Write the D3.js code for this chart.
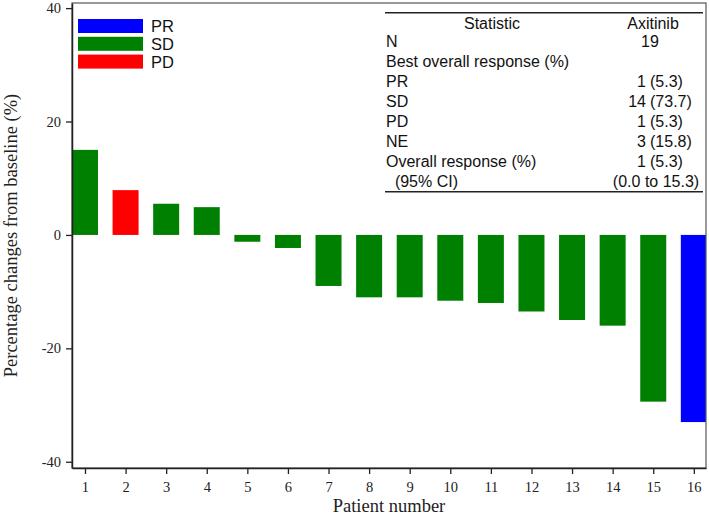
<!DOCTYPE html>
<html>
<head>
<meta charset="utf-8">
<script src="https://cdn.jsdelivr.net/npm/d3@7"></script>
<style>
  body { margin: 0; background: #fff; }
  svg { display: block; }
</style>
</head>
<body>
<svg id="chart" width="709" height="516"></svg>
<script>
// ---- data ----
const patients = [1, 2, 3, 4, 5, 6, 7, 8, 9, 10, 11, 12, 13, 14, 15, 16];
const changes = [15.0, 7.9, 5.5, 4.9, -1.2, -2.3, -9.0, -11.0, -11.0, -11.6, -12.0, -13.5, -15.0, -16.0, -29.4, -33.0];
const responses = ["SD", "PD", "SD", "SD", "SD", "SD", "SD", "SD", "SD", "SD", "SD", "SD", "SD", "SD", "SD", "PR"];
const yTicks = [-40, -20, 0, 20, 40];
const legendLabels = ["PR", "SD", "PD"];
const legendColors = ["#0000ff", "#008000", "#ff0000"];
const tableHeader = ["Statistic", "Axitinib"];
const tableLabels = ["N", "Best overall response (%)", "PR", "SD", "PD", "NE", "Overall response (%)", "\u00a0\u00a0(95% CI)"];
const tableValues = ["19", "", "1 (5.3)", "14 (73.7)", "1 (5.3)", "3 (15.8)", "1 (5.3)", "(0.0 to 15.3)"];

(function () {
const svg = d3.select("#chart");
const pLeft = 72, pRight = 706, pTop = 3, pBottom = 468;

const x = d3.scaleLinear().domain([0.68, 16.3]).range([pLeft, pRight]);
const y = d3.scaleLinear().domain([-41.1, 40.9]).range([pBottom, pTop]);
const color = d3.scaleOrdinal().domain(legendLabels).range(legendColors);
const barW = 26;

// bars (clipped to plot)
svg.append("clipPath").attr("id", "plotclip")
  .append("rect").attr("x", pLeft).attr("y", pTop).attr("width", pRight - pLeft).attr("height", pBottom - pTop);

svg.append("g").attr("clip-path", "url(#plotclip)")
  .selectAll("rect").data(patients).join("rect")
  .attr("x", (d) => x(d) - barW / 2)
  .attr("width", barW)
  .attr("y", (d, i) => y(Math.max(0, changes[i])))
  .attr("height", (d, i) => Math.abs(y(changes[i]) - y(0)))
  .attr("fill", (d, i) => color(responses[i]));

// frame
svg.append("rect").attr("x", pLeft).attr("y", pTop).attr("width", pRight - pLeft).attr("height", pBottom - pTop)
  .attr("fill", "none").attr("stroke", "#555").attr("stroke-width", 1.2);

// axes
const yAxis = d3.axisLeft(y).tickValues(yTicks).tickFormat((d) => String(d)).tickSize(6).tickPadding(5).tickSizeOuter(0);
const gy = svg.append("g").attr("transform", `translate(${pLeft},0)`).call(yAxis);
gy.select(".domain").attr("stroke", "#222").attr("stroke-width", 1.5);
gy.selectAll(".tick line").attr("stroke", "#222").attr("stroke-width", 1.3);
gy.selectAll(".tick text").attr("font-family", "'Liberation Serif', serif").attr("font-size", 14.5).attr("fill", "#222");

const xAxis = d3.axisBottom(x).tickValues(patients).tickFormat((d) => String(d)).tickSize(6).tickPadding(8).tickSizeOuter(0);
const gx = svg.append("g").attr("transform", `translate(0,${pBottom})`).call(xAxis);
gx.select(".domain").attr("stroke", "#222").attr("stroke-width", 1.5);
gx.selectAll(".tick line").attr("stroke", "#222").attr("stroke-width", 1.3);
gx.selectAll(".tick text").attr("font-family", "'Liberation Serif', serif").attr("font-size", 14.5).attr("fill", "#222");

// axis titles
svg.append("text").attr("x", 389).attr("y", 512).attr("text-anchor", "middle")
  .attr("font-family", "'Liberation Serif', serif").attr("font-size", 18.5).attr("fill", "#222")
  .text("Patient number");
svg.append("text").attr("transform", `translate(17,${(pTop + pBottom) / 2}) rotate(-90)`).attr("text-anchor", "middle")
  .attr("font-family", "'Liberation Serif', serif").attr("font-size", 18.5).attr("fill", "#222")
  .text("Percentage changes from baseline (%)");

// legend
const lg = svg.append("g");
legendLabels.forEach((lab, i) => {
  const yy = 19 + i * 17.8;
  lg.append("rect").attr("x", 78).attr("y", yy).attr("width", 65).attr("height", 14).attr("fill", legendColors[i]);
  lg.append("text").attr("x", 151).attr("y", yy + 13).attr("font-family", "'Liberation Sans', Arial, sans-serif")
    .attr("font-size", 16.5).attr("fill", "#111").text(lab);
});

// table
const tg = svg.append("g").attr("font-family", "'Liberation Sans', Arial, sans-serif").attr("font-size", 16).attr("fill", "#111");
tg.append("line").attr("x1", 385).attr("x2", 703).attr("y1", 12.7).attr("y2", 12.7).attr("stroke", "#222").attr("stroke-width", 1.5);
tg.append("line").attr("x1", 385).attr("x2", 703).attr("y1", 191.7).attr("y2", 191.7).attr("stroke", "#222").attr("stroke-width", 1.5);
tg.append("text").attr("x", 492).attr("y", 29).attr("text-anchor", "middle").text(tableHeader[0]);
tg.append("text").attr("x", 653).attr("y", 29).attr("text-anchor", "middle").text(tableHeader[1]);
tableLabels.forEach((lab, i) => {
  const yy = 47.3 + i * 19.9;
  tg.append("text").attr("x", 386).attr("y", yy).text(lab);
  const v = tableValues[i];
  const m = v.match(/^(\d+) (\(.*\))$/);
  if (m) {
    tg.append("text").attr("x", 646).attr("y", yy).attr("text-anchor", "end").text(m[1]);
    tg.append("text").attr("x", 650).attr("y", yy).text(m[2]);
  } else if (v) {
    tg.append("text").attr("x", v.startsWith("(") ? 656 : 650).attr("y", yy).attr("text-anchor", "middle").text(v);
  }
});
})();
</script>
</body>
</html>
